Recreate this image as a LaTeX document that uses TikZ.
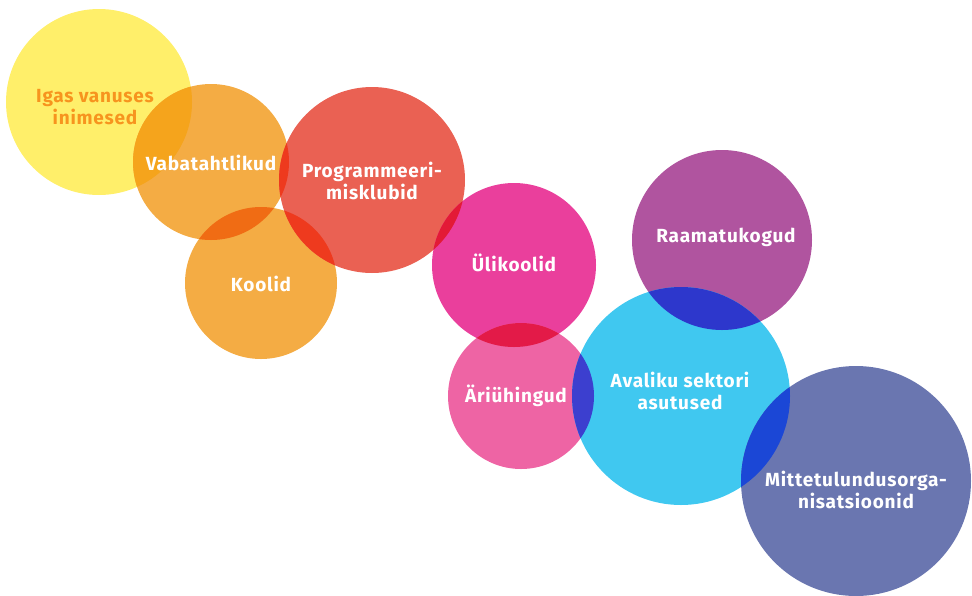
\documentclass[tikz,border=0pt]{standalone}
\usepackage{fontspec}
\setmainfont{Fira Sans}[LetterSpace=4]
\definecolor{cyel}{HTML}{FFEF6A}
\definecolor{corg}{HTML}{F4AC44}
\definecolor{cred}{HTML}{EA6153}
\definecolor{cpnk}{HTML}{EA3F9C}
\definecolor{clpk}{HTML}{EE64A4}
\definecolor{cpur}{HTML}{B0549F}
\definecolor{ccya}{HTML}{40C8F0}
\definecolor{csla}{HTML}{6A76B0}
\definecolor{oYV}{HTML}{F5A41C}
\definecolor{oVK}{HTML}{F06C14}
\definecolor{oOP}{HTML}{EE3A1E}
\definecolor{oPU}{HTML}{E31A36}
\definecolor{oUA}{HTML}{E31A48}
\definecolor{oAC}{HTML}{3C3FCF}
\definecolor{oRC}{HTML}{2D37CC}
\definecolor{oCM}{HTML}{1B47D6}
\definecolor{txtorg}{HTML}{F7941E}
\tikzset{
  bubble/.style={circle, inner sep=0pt, minimum size=#1},
  lbl/.style={text=white, font=\fontsize{19}{22.5}\selectfont\bfseries, align=center, inner sep=0pt},
}
\begin{document}
\begin{tikzpicture}[x=1pt,y=-1pt]
\useasboundingbox (0,0) rectangle (972,595);
% circles
\node[bubble=186, fill=cyel] (cY) at (99,102) {};
\node[bubble=156, fill=corg] (cV) at (211,162) {};
\node[bubble=152, fill=corg] (cK) at (261,283) {};
\node[bubble=186, fill=cred] (cP) at (372,180) {};
\node[bubble=164, fill=cpnk] (cU) at (514,265) {};
\node[bubble=146, fill=clpk] (cA) at (521,396) {};
\node[bubble=180, fill=cpur] (cR) at (722,240) {};
\node[bubble=218, fill=ccya] (cC) at (681,396) {};
\node[bubble=230, fill=csla] (cM) at (856,481) {};
% overlaps
\begin{scope}\clip (99,102) circle (93); \fill[oYV] (211,162) circle (78);\end{scope}
\begin{scope}\clip (211,162) circle (78); \fill[oVK] (261,283) circle (76);\end{scope}
\begin{scope}\clip (211,162) circle (78); \fill[oOP] (372,180) circle (93);\end{scope}
\begin{scope}\clip (261,283) circle (76); \fill[oOP] (372,180) circle (93);\end{scope}
\begin{scope}\clip (372,180) circle (93); \fill[oPU] (514,265) circle (82);\end{scope}
\begin{scope}\clip (514,265) circle (82); \fill[oUA] (521,396) circle (73);\end{scope}
\begin{scope}\clip (521,396) circle (73); \fill[oAC] (681,396) circle (109);\end{scope}
\begin{scope}\clip (722,240) circle (90); \fill[oRC] (681,396) circle (109);\end{scope}
\begin{scope}\clip (681,396) circle (109); \fill[oCM] (856,481) circle (115);\end{scope}
% labels
\node[lbl, text=txtorg] (tY) at (95,107) {Igas vanuses\\inimesed};
\node[lbl] (tV) at (211,163) {Vabatahtlikud};
\node[lbl] (tK) at (261,284) {Koolid};
\node[lbl] (tP) at (372,181) {Programmeeri-\\misklubid};
\node[lbl] (tU) at (514,263) {Ülikoolid};
\node[lbl] (tA) at (516,396) {Äriühingud};
\node[lbl] (tR) at (726,237) {Raamatukogud};
\node[lbl] (tC) at (680,391) {Avaliku sektori\\asutused};
\node[lbl] (tM) at (856,490) {Mittetulundusorga-\\nisatsioonid};
\end{tikzpicture}
\end{document}
